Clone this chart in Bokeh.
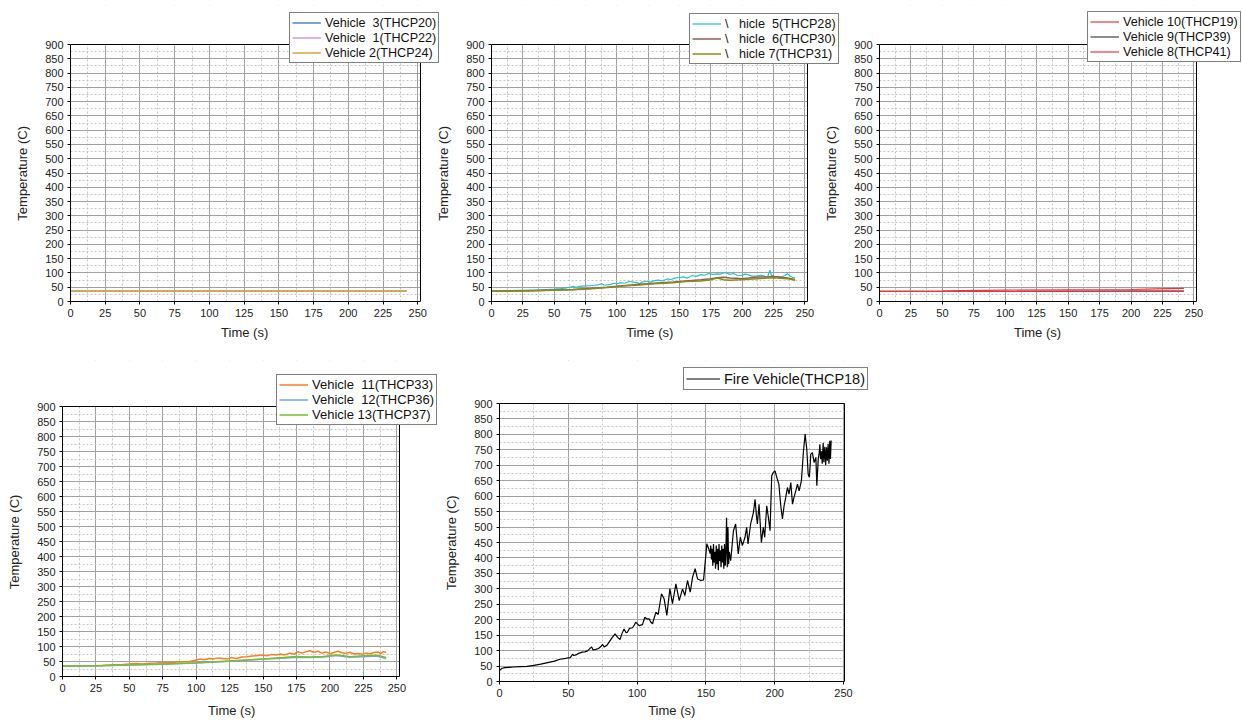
from bokeh.plotting import figure
from bokeh.layouts import row, column
from bokeh.models import Legend, LegendItem, SingleIntervalTicker, Range1d, BoxAnnotation
from bokeh.embed import file_html
from bokeh.resources import INLINE

FONT = "Liberation Sans"

# ---------------- data ----------------
# Panel 1
p1_t = [0, 60, 120, 180, 242]
v3_thcp20 = [36, 36, 36, 36, 36]
v1_thcp22 = [36, 36, 36, 36, 36]
v2_thcp24 = [36, 36, 36, 36, 36]

# Panel 2
v5_t = [0, 5, 10, 15, 20, 25, 30, 35, 40, 45, 50, 55, 60, 62, 65, 68, 70, 75, 80, 85, 88, 90, 95, 98,
        100, 103, 106, 110, 113, 116, 118, 120, 124, 127, 130, 133, 136, 140, 143, 146, 150, 153, 156,
        160, 163, 167, 170, 173, 176, 180, 183, 185, 188, 190, 193, 196, 199, 202, 205, 208, 212, 215,
        218, 220, 222, 223, 225, 228, 231, 234, 236, 238, 240, 242]
v5_thcp28 = [37, 37, 38, 38, 39, 39, 40, 40, 41, 42, 43, 45, 48, 50, 52, 50, 53, 55, 56, 58, 62, 57, 60, 64,
             62, 66, 64, 70, 68, 66, 62, 68, 71, 68, 73, 75, 72, 79, 77, 82, 84, 86, 82,
             91, 88, 94, 92, 98, 95, 97, 96, 101, 99, 95, 98, 92, 91, 96, 93, 89, 90, 92,
             88, 84, 110, 95, 83, 88, 86, 91, 97, 90, 85, 82]
v6_t = [0, 25, 50, 65, 80, 92, 105, 118, 130, 145, 155, 167, 175, 180, 185, 190, 195, 200, 205, 212,
        220, 225, 230, 236, 240, 242]
v6_thcp30 = [36, 37, 40, 42, 46, 50, 55, 60, 64, 68, 72, 76, 80, 83, 85, 82, 81, 80, 82, 86,
             86, 88, 85, 82, 79, 76]
v7_t = [0, 25, 50, 65, 80, 92, 105, 118, 130, 145, 155, 167, 175, 180, 185, 190, 198, 205, 212,
        220, 225, 230, 236, 240, 242]
v7_thcp31 = [36, 37, 39, 41, 45, 49, 54, 58, 62, 66, 70, 72, 76, 82, 76, 74, 76, 78, 80,
             82, 83, 81, 80, 77, 74]

# Panel 3
p3_t = [0, 50, 100, 150, 200, 220, 242]
v10_thcp19 = [36, 37, 40, 41, 42, 44, 46]
v9_thcp39 = [35, 35, 35, 35, 36, 36, 36]
v8_thcp41 = [35, 35, 35, 36, 36, 36, 36]

# Panel 4
v11_t = [0, 10, 20, 30, 38, 45, 50, 55, 60, 65, 70, 75, 80, 85, 90, 95, 100, 103, 106, 110, 113, 116,
         120, 123, 126, 130, 134, 138, 142, 146, 150, 153, 156, 160, 163, 166, 170, 173, 176, 179,
         182, 185, 188, 191, 194, 197, 200, 203, 206, 209, 212, 215, 218, 221, 224, 227, 230, 233,
         236, 238, 240, 242]
v11_thcp33 = [35, 35, 36, 37, 39, 40, 42, 43, 42, 44, 45, 47, 46, 48, 49, 50, 55, 58, 56, 60, 58, 62,
              60, 58, 63, 60, 65, 66, 68, 70, 72, 69, 73, 72, 75, 72, 78, 74, 83, 78,
              82, 86, 80, 84, 78, 82, 76, 80, 84, 79, 77, 81, 75, 77, 74, 78, 76, 80,
              82, 76, 83, 80]
p4_t = [0, 25, 50, 75, 100, 125, 150, 165, 175, 185, 195, 205, 210, 215, 225, 235, 240, 242]
v12_thcp36 = [35, 36, 38, 41, 45, 51, 58, 61, 64, 63, 65, 70, 67, 64, 66, 68, 62, 60]
v13_thcp37 = [35, 36, 38, 42, 46, 52, 58, 63, 67, 65, 67, 72, 69, 66, 69, 71, 66, 63]

# Panel 5
fire_t = [0, 1, 2, 4, 7, 10, 15, 20, 25, 30, 35, 40, 44, 48, 50, 51, 52, 53, 54, 56, 58, 60, 62, 64,
          66, 67, 68, 70, 72, 74, 75, 76, 78, 80, 82, 84, 86, 87.6, 89, 90.5, 92, 93, 94.5, 96.6, 98,
          99, 101.4, 103.9, 105.6, 107, 108.7, 110, 111.2, 113.6, 115.3, 117.7, 119.6, 121.6, 123.8,
          125.7, 128.2, 130.6, 133, 134.7, 136.6, 138.6, 140.3, 142.2, 143.9, 146.4, 148.3, 150.7,
          152, 153.1, 153.5, 154, 154.5, 155, 155.5, 156, 156.5, 157, 157.5, 158, 158.5, 159, 159.5,
          160, 160.5, 161, 161.5, 162, 162.5, 163, 163.5, 164, 164.5, 165, 165.5, 166, 166.5, 167,
          168, 170, 171.6, 173.5, 175, 176.5, 178.4, 179.6, 180.6, 182.5, 184.5, 185.7, 186.7, 187.4,
          188.6, 190.3, 191.7, 192.7, 194.2, 195.4, 196.6, 197.8, 199, 200.2, 201.5, 203, 204.4,
          205.6, 206.8, 208, 209.2, 210.4, 211.7, 212.9, 214, 215.3, 216.5, 217.7, 219.4, 220.9,
          222.1, 223.3, 224.3, 225.2, 226.2, 227.4, 228.6, 229.9, 230.6, 231.6, 232.3, 232.8, 233.3,
          234, 234.5, 235.2, 235.7, 236.4, 237, 237.6, 238.2, 238.8, 239.4, 240, 240.5, 241]
fire_thcp18 = [35, 40, 43, 45, 46, 47, 48, 49, 52, 56, 61, 66, 72, 75, 77, 76, 80, 88, 84, 87, 92, 95, 96, 99,
               108, 112, 102, 104, 107, 115, 120, 112, 117, 130, 143, 154, 142, 136, 155, 170, 158, 160, 172, 174, 183,
               192, 181, 184, 208, 203, 203, 192, 187, 224, 217, 284, 268, 214, 300,
               252, 316, 262, 300, 278, 327, 289, 338, 365, 332, 327, 329, 446,
               430, 414, 440, 395, 430, 375, 445, 385, 420, 365, 440, 380, 430, 360, 445,
               390, 425, 370, 440, 385, 430, 365, 445, 375, 420, 530, 370, 500, 380, 420,
               391, 488, 510, 413, 467, 440, 467, 499, 445, 510, 547, 590, 537, 510,
               574, 450, 499, 467, 569, 531, 488, 666, 677, 682, 661, 639, 569,
               526, 569, 596, 628, 607, 644, 574, 596, 617, 639, 617, 650, 747,
               801, 752, 671, 661, 736, 741, 709, 725, 634, 720, 740, 768, 720,
               745, 705, 773, 710, 760, 700, 758, 715, 770, 705, 779, 720, 780]

X_LABEL = "Time (s)"
Y_LABEL = "Temperature (C)"
Y_MAX = 900
GRID_MAJOR = "#a0a0a0"
GRID_MINOR = "#c4c4c4"
NBSP = "\u00a0"
SPACE_W = 0.278 * 13  # width of a space at the 13px axis-label size


def make_panel(width, height, bl, bt, bb, plot_w, plot_h, xmax, xint, xlab_standoff, **kw):
    # the frame is larger than the visible plotting box so that the legend may overlap its edge
    frame_w = width - bl
    frame_h = height - bt - bb
    ext_r = frame_w - plot_w
    ext_t = frame_h - plot_h
    x_end = xmax * frame_w / plot_w
    y_end = Y_MAX * frame_h / plot_h
    p = figure(width=width, height=height, min_border_left=bl, min_border_right=0,
               min_border_top=bt, min_border_bottom=bb,
               x_range=Range1d(0, x_end), y_range=Range1d(0, y_end),
               output_backend="svg", toolbar_location=None, **kw)
    p.xaxis.ticker = SingleIntervalTicker(interval=xint, num_minor_ticks=2)
    p.yaxis.ticker = SingleIntervalTicker(interval=50, num_minor_ticks=2)
    p.xaxis.bounds = (0, xmax)
    p.yaxis.bounds = (0, Y_MAX)
    for g in (p.xgrid, p.ygrid):
        g.grid_line_color = GRID_MAJOR
        g.grid_line_width = 1
        g.minor_grid_line_color = GRID_MINOR
        g.minor_grid_line_dash = "2 2"
        g.minor_grid_line_width = 1
    for ax in (p.xaxis, p.yaxis):
        ax.axis_line_color = "black"
        ax.major_tick_line_color = "black"
        ax.major_tick_out = 3
        ax.major_tick_in = 0
        ax.minor_tick_out = 0
        ax.minor_tick_in = 0
        ax.major_label_standoff = 4
        ax.major_label_text_font = FONT
        ax.major_label_text_font_size = "11px"
        ax.major_label_text_color = "#222222"
        ax.axis_label_text_font = FONT
        ax.axis_label_text_font_size = "13px"
        ax.axis_label_text_font_style = "normal"
        ax.axis_label_text_color = "#222222"
    # pad the labels so that they are centred on the plotting box, not on the larger frame
    p.xaxis.axis_label = X_LABEL + NBSP * round(ext_r / SPACE_W)
    p.yaxis.axis_label = Y_LABEL + NBSP * round(ext_t / SPACE_W)
    p.xaxis.axis_label_standoff = xlab_standoff
    p.yaxis.axis_label_standoff = 12
    p.outline_line_color = None
    p.background_fill_color = "white"
    p.border_fill_color = "white"
    return p, xmax


def finish(p, xmax, items, loc, fsize="13px", lh=15, gw=29):
    # blank the area outside the plotting box, then draw the box
    p.add_layout(BoxAnnotation(bottom=Y_MAX, fill_color="white", fill_alpha=1, line_alpha=0))
    p.add_layout(BoxAnnotation(left=xmax, fill_color="white", fill_alpha=1, line_alpha=0))
    p.add_layout(BoxAnnotation(left=0, right=xmax, bottom=0, top=Y_MAX, fill_alpha=0,
                               line_color="black", line_width=1, line_alpha=1))
    leg = Legend(items=[LegendItem(label=l, renderers=[r]) for l, r in items], location=loc)
    leg.label_text_font = FONT
    leg.label_text_font_size = fsize
    leg.label_text_color = "#111111"
    leg.glyph_width = gw
    leg.glyph_height = lh
    leg.label_height = lh
    leg.spacing = 0
    leg.padding = 2
    leg.margin = 0
    leg.label_standoff = 4
    leg.border_line_color = "black"
    leg.border_line_width = 1
    leg.background_fill_color = "white"
    leg.background_fill_alpha = 1
    p.add_layout(leg)


# Panel 1
p1, xm1 = make_panel(440, 355, 70, 5, 54, 350, 257, 252, 25, 5)
r3 = p1.line(p1_t, v3_thcp20, color="#4f84d6", line_width=1.5)
r1 = p1.line(p1_t, v1_thcp22, color="#c39cee", line_width=1.5)
r2 = p1.line(p1_t, v2_thcp24, color="#d9a432", line_width=1.5)
finish(p1, xm1, [("Vehicle  3(THCP20)", r3), ("Vehicle  1(THCP22)", r1), ("Vehicle 2(THCP24)", r2)],
       (219, 238), fsize="12.6px")

# Panel 2 (pulled 8 px left over the empty edge of panel 1)
p2, xm2 = make_panel(408, 355, 59, 5, 54, 316, 257, 252, 25, 5, margin=(0, 0, 0, -8))
p2.border_fill_alpha = 0
r5 = p2.line(v5_t, v5_thcp28, color="#22c4c8", line_width=1.2)
r6 = p2.line(v6_t, v6_thcp30, color="#8e5c5c", line_width=1.5)
r7 = p2.line(v7_t, v7_thcp31, color="#8c8c12", line_width=1.5)
finish(p2, xm2, [("\\   hicle  5(THCP28)", r5), ("\\   hicle  6(THCP30)", r6), ("\\   hicle 7(THCP31)", r7)],
       (198, 237), fsize="12.6px")

# Panel 3 (pulled 19 px left over the empty edge of panel 2)
p3, xm3 = make_panel(421, 355, 58, 5, 54, 317, 257, 252, 25, 5, margin=(0, 0, 0, -19))
p3.border_fill_alpha = 0
r10 = p3.line(p3_t, v10_thcp19, color="#e8353a", line_width=1.2)
r9 = p3.line(p3_t, v9_thcp39, color="#404040", line_width=1.2)
r8 = p3.line(p3_t, v8_thcp41, color="#e23a44", line_width=1.2)
finish(p3, xm3, [("Vehicle 10(THCP19)", r10), ("Vehicle 9(THCP39)", r9), ("Vehicle 8(THCP41)", r8)],
       (208, 239), fsize="12.6px")

# Panel 4
p4, xm4 = make_panel(440, 365, 62, 5, 44, 337, 270, 252, 25, 8)
r11 = p4.line(v11_t, v11_thcp33, color="#ff7a2a", line_width=1.5)
r12 = p4.line(p4_t, v12_thcp36, color="#74a6e0", line_width=1.5)
r13 = p4.line(p4_t, v13_thcp37, color="#74c02c", line_width=1.5)
finish(p4, xm4, [("Vehicle  11(THCP33)", r11), ("Vehicle  12(THCP36)", r12), ("Vehicle 13(THCP37)", r13)],
       (214, 251))

# Panel 5
p5, xm5 = make_panel(436, 365, 59, 5, 39, 345, 278, 250.7, 50, 3)
rf = p5.line(fire_t, fire_thcp18, color="black", line_width=1.2)
finish(p5, xm5, [("Fire Vehicle(THCP18)", rf)], (184, 291), fsize="14.5px", lh=17, gw=34)

layout = column(row(p1, p2, p3), row(column(p4), column(p5)))

open("out.html", "w").write(file_html(layout, INLINE))
